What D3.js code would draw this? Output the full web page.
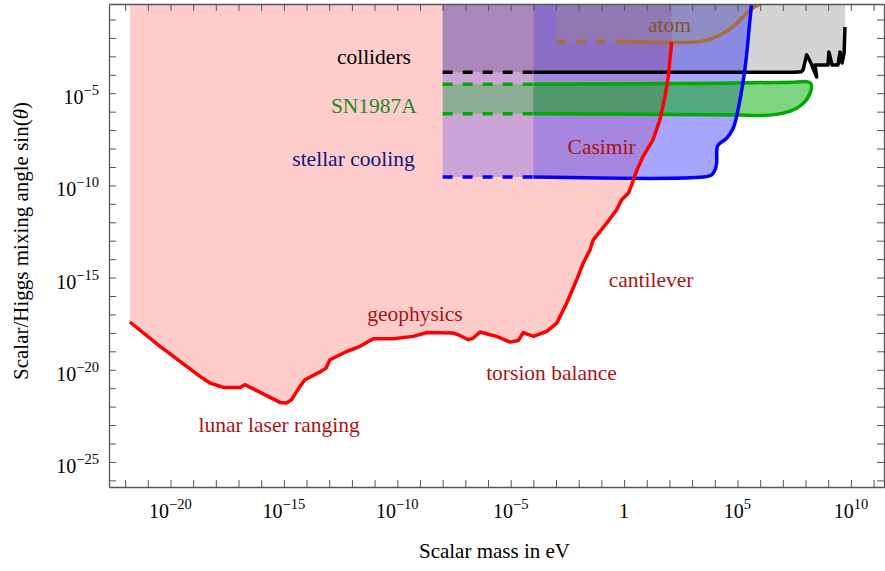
<!DOCTYPE html>
<html><head><meta charset="utf-8">
<script src="https://cdn.jsdelivr.net/npm/d3@7"></script>
<style>
body{margin:0;background:#fff}
svg{display:block}
text{font-family:"Liberation Serif","Times New Roman",serif}
</style>
</head><body>
<svg id="chart" width="885" height="571"></svg>
<script>
// ---------- DATA (log10 of mass in eV, log10 of sin θ) ----------
const xDomainExp = [-22.71, 11.46];
const yDomainExp = [-26.36, -0.16];
const xTickExps = d3.range(-22, 12);
const yTickExps = d3.range(-26, 0);
const xLabelExps = [-20, -15, -10, -5, 0, 5, 10];
const yLabelExps = [-25, -20, -15, -10, -5];

// fifth-force bound (red line): lunar laser ranging, geophysics, torsion balance, cantilever, Casimir
const fifthLogM = [-21.79,-20.46,-18.70,-18.26,-17.67,-16.93,-16.72,-15.17,-14.88,-14.66,-14.29,-14.07,-13.36,-13.14,-12.97,-12.23,-11.64,-11.06,-10.18,-9.29,-8.70,-7.53,-7.31,-6.87,-6.65,-6.35,-5.91,-5.62,-5.03,-4.66,-4.44,-4.00,-3.41,-2.97,-2.53,-2.09,-1.80,-1.50,-1.36,-0.77,-0.33,-0.11,0.19,0.35,0.57,0.83,1.27,1.58,1.80,1.95,2.02,2.10];
const fifthLogS = [-17.41,-18.73,-20.36,-20.72,-20.96,-20.96,-20.81,-21.77,-21.80,-21.62,-20.90,-20.54,-20.09,-19.91,-19.46,-19.01,-18.73,-18.32,-18.32,-18.19,-17.98,-18.01,-18.10,-18.37,-18.28,-17.95,-18.10,-18.19,-18.50,-18.41,-17.98,-18.19,-17.92,-17.47,-16.38,-15.12,-14.21,-13.49,-12.95,-12.05,-11.33,-10.78,-10.42,-9.92,-9.16,-8.45,-7.53,-6.45,-5.20,-4.12,-3.20,-2.22];

// extrapolated (dashed) mass range shared by stellar cooling, colliders, SN1987A
const extrapLogM = [-8, -4];

// stellar cooling (blue)
const stellarLogM = [-4, 3.48, 3.86, 4.01, 4.08, 4.11, 4.23, 4.52, 4.81, 4.96, 5.11, 5.26, 5.41, 5.52, 5.58, 5.65];
const stellarLogS = [-9.55,-9.55,-9.43,-9.16,-8.78,-7.89,-7.71,-7.44,-6.90,-6.27,-5.36,-4.28,-2.83,-1.39,-0.66,0.2];

// colliders (black)
const colliderLogM = [-4, 7.52, 7.80, 7.89, 8.05, 8.24, 8.49, 8.42, 8.99, 9.03, 9.17, 9.43, 9.52, 9.61, 9.70, 9.74];
const colliderLogS = [-3.86,-3.86,-3.84,-3.74,-2.92,-3.36,-4.12,-3.47,-3.47,-2.76,-3.47,-3.47,-2.76,-3.36,-2.82,-1.41];

// SN1987A band (green)
const snLogM = [-4, 4.23, 7.50, 8.05, 8.22, 8.27, 8.20, 7.98, 7.61, 7.02, 6.14, 5.11, -4];
const snLogS = [-4.51,-4.46,-4.40,-4.37,-4.45,-4.64,-5.00,-5.46,-5.81,-6.08,-6.21,-6.18,-6.12];
const snExtrapLogS = [-4.51, -6.12];

// atom (brown)
const atomExtrapLogM = [-3, 0];
const atomLogM = [0, 3.20, 3.79, 4.37, 4.81, 5.19, 5.55, 5.99, 6.3];
const atomLogS = [-2.20,-2.22,-2.07,-1.75,-1.39,-0.93,-0.49,-0.16,0.05];

// text annotations: [label, logM, logS(baseline), colour]
const labelText = ["atom","colliders","SN1987A","stellar cooling","Casimir","cantilever","geophysics","torsion balance","lunar laser ranging"];
const labelLogM = [2.00,-11.03,-11.03,-11.93,-0.99,1.19,-9.22,-3.20,-15.21];
const labelLogS = [-1.70,-3.41,-6.07,-8.94,-8.29,-15.50,-17.37,-20.54,-23.37];
const labelColor = ["#80552f","#000000","#1f8a1f","#14147a","#a81414","#a81414","#a81414","#a81414","#a81414"];

// ---------- LAYOUT ----------
const W = 885, H = 571;
const L = 109, R = 884, T = 4, B = 487;
const svg = d3.select("#chart");
const x = d3.scaleLog().domain(xDomainExp.map(e => 10 ** e)).range([L, R]);
const y = d3.scaleLog().domain(yDomainExp.map(e => 10 ** e)).range([B, T]);
const topE = yDomainExp[1] + 0.5;

const pts = (ms, ss) => ms.map((m, i) => [m, ss[i]]);
const line = d3.line().x(d => x(10 ** d[0])).y(d => y(10 ** d[1]));
const smooth = d3.line().x(d => x(10 ** d[0])).y(d => y(10 ** d[1])).curveCatmullRom ? null : null;
const smoothLine = d3.line().x(d => x(10 ** d[0])).y(d => y(10 ** d[1])).curve(d3.curveCatmullRom.alpha(0.5));

svg.append("defs").append("clipPath").attr("id", "clip")
  .append("rect").attr("x", L).attr("y", T).attr("width", R - L).attr("height", B - T);
const g = svg.append("g").attr("clip-path", "url(#clip)");

// ---------- FILLS ----------
const fifth = pts(fifthLogM, fifthLogS);
g.append("path")
  .attr("d", line([[fifth[0][0], topE], ...fifth, [fifth[fifth.length - 1][0], topE]]) + "Z")
  .attr("fill", "#ffcccc");

const coll = pts(colliderLogM, colliderLogS);
g.append("path")
  .attr("d", line([[extrapLogM[0], topE], [extrapLogM[0], coll[0][1]], ...coll, [coll[coll.length - 1][0], topE]]) + "Z")
  .attr("fill", "rgba(0,0,0,0.17)");

const stel = pts(stellarLogM, stellarLogS);
g.append("path")
  .attr("d", line([[extrapLogM[0], topE], [extrapLogM[0], stel[0][1]], [extrapLogM[1], stel[0][1]], [extrapLogM[1], topE]]) + "Z")
  .attr("fill", "rgba(0,0,255,0.2)");
g.append("path")
  .attr("d", line([[stel[0][0], topE], ...stel, [stel[stel.length - 1][0], topE]]) + "Z")
  .attr("fill", "rgba(0,0,255,0.35)");

const atom = pts(atomLogM, atomLogS);
g.append("path")
  .attr("d", line([[atomExtrapLogM[0], topE], [atomExtrapLogM[0], atom[0][1]], ...atom, [atom[atom.length - 1][0], topE]]) + "Z")
  .attr("fill", "rgba(160,150,130,0.3)");

const sn = pts(snLogM, snLogS);
g.append("path")
  .attr("d", line([[extrapLogM[0], snExtrapLogS[0]], [extrapLogM[1], snExtrapLogS[0]], [extrapLogM[1], snExtrapLogS[1]], [extrapLogM[0], snExtrapLogS[1]]]) + "Z")
  .attr("fill", "rgba(0,200,0,0.3)");
g.append("path")
  .attr("d", smoothLine(sn) + "Z")
  .attr("fill", "rgba(0,170,0,0.5)");

// ---------- LINES ----------
const lw = 3.5;
function dashed(p0, p1, color) {
  g.append("path").attr("d", line([p0, p1])).attr("fill", "none")
    .attr("stroke", color).attr("stroke-width", lw).attr("stroke-dasharray", "10,10");
}
// green
dashed([extrapLogM[0], snExtrapLogS[0]], [extrapLogM[1], snExtrapLogS[0]], "#00aa00");
dashed([extrapLogM[0], snExtrapLogS[1]], [extrapLogM[1], snExtrapLogS[1]], "#00aa00");
g.append("path").attr("d", smoothLine(sn)).attr("fill", "none")
  .attr("stroke", "#00aa00").attr("stroke-width", lw).attr("stroke-linejoin", "round");
// black
dashed([extrapLogM[0], coll[0][1]], [extrapLogM[1], coll[0][1]], "#000");
g.append("path").attr("d", line(coll)).attr("fill", "none")
  .attr("stroke", "#000").attr("stroke-width", lw).attr("stroke-linejoin", "round");
// brown
dashed([atomExtrapLogM[0], atom[0][1]], [atomExtrapLogM[1], atom[0][1]], "#a86e3a");
g.append("path").attr("d", smoothLine(atom)).attr("fill", "none")
  .attr("stroke", "#a86e3a").attr("stroke-width", lw).attr("stroke-linejoin", "round");
// blue
dashed([extrapLogM[0], stel[0][1]], [extrapLogM[1], stel[0][1]], "#0000ff");
g.append("path").attr("d", smoothLine(stel)).attr("fill", "none")
  .attr("stroke", "#0000ff").attr("stroke-width", lw).attr("stroke-linejoin", "round");
// red
g.append("path").attr("d", line(fifth)).attr("fill", "none")
  .attr("stroke", "#ff0000").attr("stroke-width", lw).attr("stroke-linejoin", "round");

// ---------- LABELS ----------
labelText.forEach((t, i) => {
  svg.append("text")
    .attr("x", x(10 ** labelLogM[i])).attr("y", y(10 ** labelLogS[i]))
    .attr("text-anchor", "middle").attr("font-size", 21.5)
    .attr("fill", labelColor[i]).text(t);
});

// ---------- AXES ----------
const axisColor = "#555";
const tickLen = 7;
const axB = svg.append("g").attr("transform", `translate(0,${B})`)
  .call(d3.axisBottom(x).tickValues(xTickExps.map(e => 10 ** e)).tickSizeInner(-tickLen).tickSizeOuter(0).tickFormat(""));
const axT = svg.append("g").attr("transform", `translate(0,${T})`)
  .call(d3.axisTop(x).tickValues(xTickExps.map(e => 10 ** e)).tickSizeInner(-tickLen).tickSizeOuter(0).tickFormat(""));
const axL = svg.append("g").attr("transform", `translate(${L},0)`)
  .call(d3.axisLeft(y).tickValues(yTickExps.map(e => 10 ** e)).tickSizeInner(-tickLen).tickSizeOuter(0).tickFormat(""));
const axR = svg.append("g").attr("transform", `translate(${R},0)`)
  .call(d3.axisRight(y).tickValues(yTickExps.map(e => 10 ** e)).tickSizeInner(-tickLen).tickSizeOuter(0).tickFormat(""));
[axB, axT, axL, axR].forEach(a => {
  a.selectAll("line").attr("stroke", axisColor).attr("stroke-width", 1);
  a.select(".domain").attr("stroke", axisColor).attr("stroke-width", 1.3);
});

function powLabel(sel, e) {
  if (e === 0) { sel.append("tspan").text("1"); return; }
  sel.append("tspan").text("10");
  sel.append("tspan").attr("font-size", 14.5).attr("dy", -9)
    .text(e < 0 ? "\u2212" + (-e) : String(e));
}
xLabelExps.forEach(e => {
  const t = svg.append("text").attr("x", x(10 ** e)).attr("y", B + 31)
    .attr("text-anchor", "middle").attr("font-size", 20).attr("fill", "#000");
  powLabel(t, e);
});
yLabelExps.forEach(e => {
  const t = svg.append("text").attr("x", L - 10).attr("y", y(10 ** e) + 11)
    .attr("text-anchor", "end").attr("font-size", 20).attr("fill", "#000");
  powLabel(t, e);
});

// titles
svg.append("text").attr("x", (L + R) / 2 - 2).attr("y", 558)
  .attr("text-anchor", "middle").attr("font-size", 21).text("Scalar mass in eV");
const yt = svg.append("text").attr("transform", `translate(28,${241}) rotate(-90)`)
  .attr("text-anchor", "middle").attr("font-size", 21);
yt.append("tspan").text("Scalar/Higgs mixing angle sin(");
yt.append("tspan").attr("font-style", "italic").text("\u03B8");
yt.append("tspan").text(")");
</script>
</body></html>
